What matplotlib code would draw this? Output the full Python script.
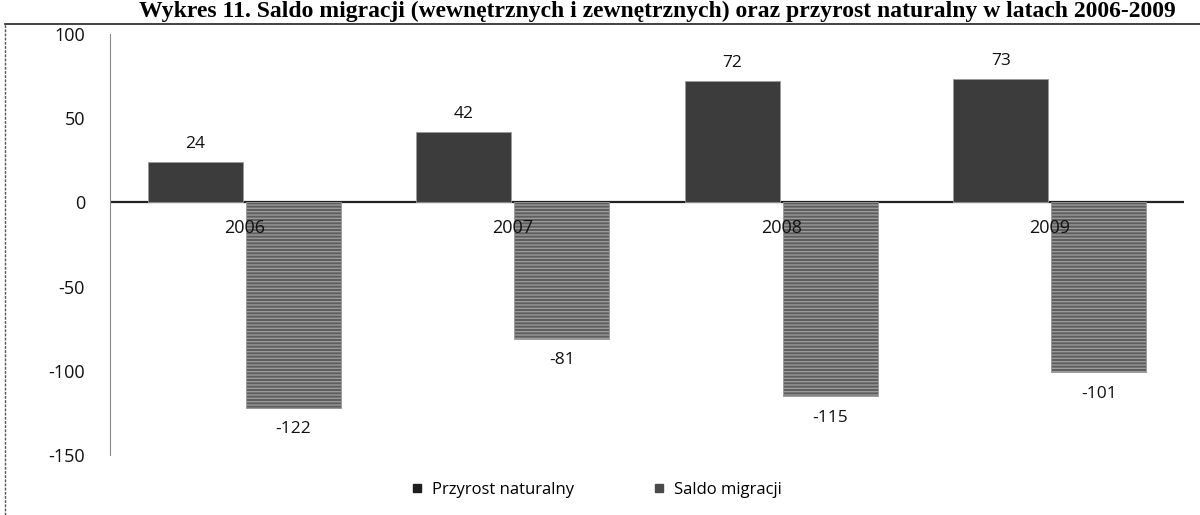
import matplotlib
matplotlib.use("Agg")
import matplotlib.pyplot as plt
import numpy as np
from matplotlib.lines import Line2D

plt.rcParams['font.family'] = ['Open Sans', 'DejaVu Sans']
plt.rcParams['hatch.color'] = '#8a8a8a'

years = ['2006', '2007', '2008', '2009']
przyrost = [24, 42, 72, 73]
saldo = [-122, -81, -115, -101]
series_names = ['Przyrost naturalny', 'Saldo migracji']
yticks = [100, 50, 0, -50, -100, -150]
title = 'Wykres 11. Saldo migracji (wewnętrznych i zewnętrznych) oraz przyrost naturalny w latach 2006-2009'

fig = plt.figure(figsize=(12, 5.15), dpi=100)
ax = fig.add_axes([110 / 1200, 1 - 455 / 515, (1184 - 110) / 1200, (455 - 34) / 515])

x = np.arange(len(years))
w = 0.355
b1 = ax.bar(x - w / 2 - 0.005, przyrost, w, color='#3c3c3c', edgecolor='#9a9a9a', linewidth=0.6, zorder=2)
b2 = ax.bar(x + w / 2 + 0.005, saldo, w, color='#5e5e5e', edgecolor='#9a9a9a', linewidth=0.6,
            hatch='-----', zorder=2)

for xi, v in zip(x - w / 2 - 0.005, przyrost):
    ax.text(xi, v + 6, str(v), ha='center', va='bottom', fontsize=12.5, color='#111111')
for xi, v in zip(x + w / 2 + 0.005, saldo):
    ax.text(xi, v - 8, str(v), ha='center', va='top', fontsize=12.5, color='#111111')

ax.axhline(0, color='#222222', lw=1.6, zorder=1)

for xi, yr in zip(x, years):
    ax.text(xi, -10, yr, ha='center', va='top', fontsize=13, color='#111111', zorder=5)

ax.set_xlim(-0.5, 3.5)
ax.set_ylim(-150, 100)
ax.set_xticks([])
ax.set_yticks(yticks)
ax.set_yticklabels([str(t) for t in yticks], fontsize=13, color='#111111')
ax.tick_params(axis='y', length=0, pad=18)
for s in ['top', 'right', 'bottom']:
    ax.spines[s].set_visible(False)
ax.spines['left'].set_color('#8a8a8a')
ax.spines['left'].set_linewidth(0.8)
ax.spines['left'].set_linestyle((0, (2, 1)))

handles = [Line2D([], [], marker='s', ls='', color='#1e1e1e', markersize=6),
           Line2D([], [], marker='s', ls='', color='#4a4a4a', markersize=6)]
fig.legend(handles, series_names, loc='center', bbox_to_anchor=(0.496, 1 - 490 / 515), ncol=2,
           frameon=False, fontsize=12, handletextpad=0.4, columnspacing=4.6, handlelength=1)

fig.text(0.548, 1 - 1 / 515, title, ha='center', va='top', fontsize=17, fontweight='bold',
         family='Liberation Serif')
fig.add_artist(Line2D([5 / 1200, 1], [1 - 24 / 515, 1 - 24 / 515], color='#222222', lw=1.2))
fig.add_artist(Line2D([5 / 1200, 5 / 1200], [0, 1 - 24 / 515], color='#555555', lw=1.0,
                      linestyle=(0, (2, 1))))

fig.savefig('out.png', dpi=100)
